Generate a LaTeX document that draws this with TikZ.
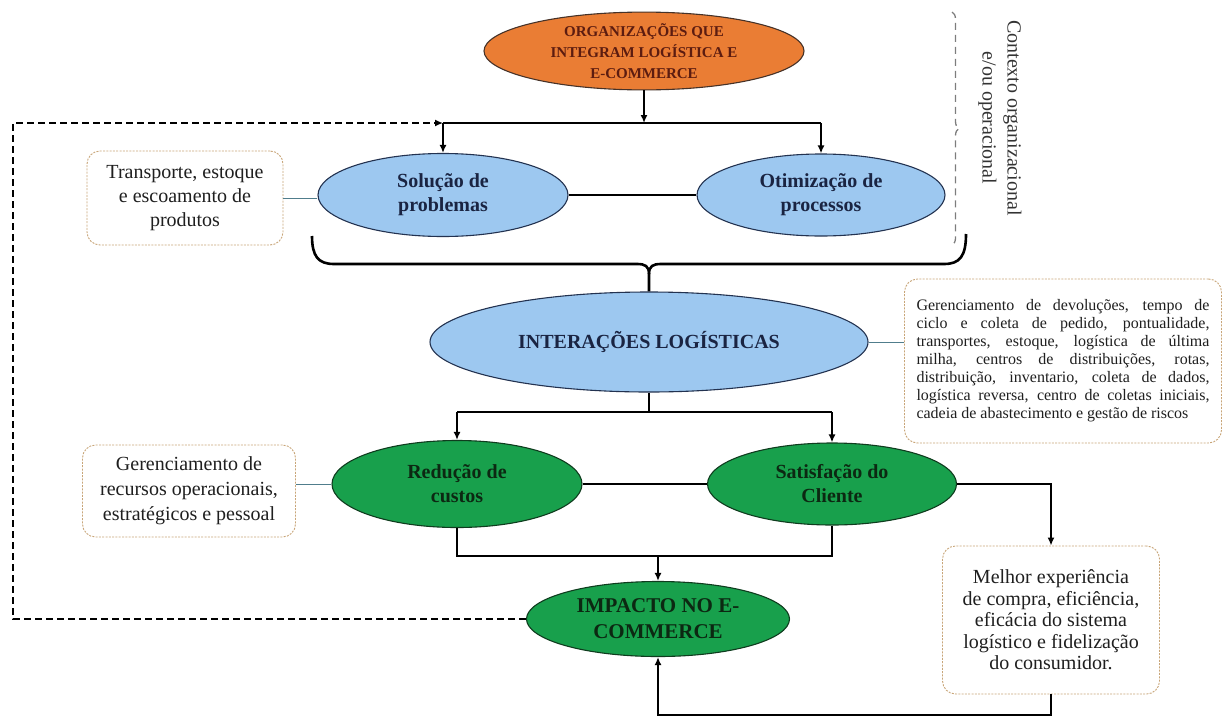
\documentclass[tikz,border=0pt]{standalone}
\usepackage{fontspec}
\setmainfont{Liberation Serif}
\usetikzlibrary{shapes.geometric,arrows.meta,decorations.pathreplacing}

\definecolor{orgfill}{RGB}{234,125,52}
\definecolor{orgline}{RGB}{70,50,40}
\definecolor{orgtext}{RGB}{92,28,16}
\definecolor{bluefill}{RGB}{157,200,240}
\definecolor{blueline}{RGB}{35,50,80}
\definecolor{bluetext}{RGB}{26,36,66}
\definecolor{greenfill}{RGB}{24,160,76}
\definecolor{greenline}{RGB}{15,60,30}
\definecolor{greentext}{RGB}{12,40,18}
\definecolor{boxline}{RGB}{200,165,120}
\definecolor{noteline}{RGB}{80,125,140}
\definecolor{ctxgray}{RGB}{125,125,125}

\begin{document}
\begin{tikzpicture}[x=1pt,y=-1pt,
  oval/.style={ellipse, draw, line width=1.1pt, inner sep=0pt, align=center},
  orgoval/.style={oval, fill=orgfill, draw=orgline, text=orgtext,
    font=\bfseries\fontsize{15}{21}\selectfont},
  blueoval/.style={oval, fill=bluefill, draw=blueline, text=bluetext,
    font=\bfseries\fontsize{20}{24}\selectfont},
  greenoval/.style={oval, fill=greenfill, draw=greenline, text=greentext,
    font=\bfseries\fontsize{20}{24}\selectfont},
  note/.style={draw=boxline, dash pattern=on 2pt off 1.3pt, line width=0.9pt,
    rounded corners=13pt, fill=white, align=center, inner sep=0pt, text=black!88},
  conn/.style={line width=2.2pt, black},
  arr/.style={conn, -{Latex[length=8pt,width=7pt]}},
  link/.style={line width=1pt, noteline},
  fb/.style={line width=1.4pt, dash pattern=on 7pt off 4pt, -{Latex[length=8pt,width=7pt]}},
]
\useasboundingbox (0,0) rectangle (1225,715);

% ---- ellipses ----
\node[orgoval, minimum width=320pt, minimum height=74pt] (org) at (644,51)
  {ORGANIZAÇÕES QUE\\INTEGRAM LOGÍSTICA E\\E-COMMERCE};
\node[blueoval, minimum width=250pt, minimum height=83pt] (sol) at (443,195)
  {Solução de\\problemas};
\node[blueoval, minimum width=248pt, minimum height=82pt] (oti) at (821,195)
  {Otimização de\\processos};
\node[blueoval, minimum width=438pt, minimum height=100pt] (inter) at (649,342)
  {INTERAÇÕES LOGÍSTICAS};
\node[greenoval, minimum width=250pt, minimum height=87pt] (red) at (457,484)
  {Redução de\\custos};
\node[greenoval, minimum width=249pt, minimum height=82pt] (sat) at (832,484)
  {Satisfação do\\Cliente};
\node[greenoval, minimum width=263pt, minimum height=75pt,
  font=\bfseries\fontsize{21}{26}\selectfont] (imp) at (658,619)
  {IMPACTO NO E-\\COMMERCE};

% ---- note boxes ----
\node[note, minimum width=196pt, minimum height=94pt,
  font=\fontsize{20}{24}\selectfont] (b1) at (185,198)
  {Transporte, estoque\\e escoamento de\\produtos};
\node[note, minimum width=213pt, minimum height=92pt,
  font=\fontsize{20}{25}\selectfont] (b2) at (189,491)
  {Gerenciamento de\\recursos operacionais,\\estratégicos e pessoal};
\node[note, minimum width=317pt, minimum height=164pt, align=left,
  font=\fontsize{16}{18}\selectfont] (b3) at (1063,361)
  {\makebox[293pt][s]{Gerenciamento de devoluções, tempo de}\\
   \makebox[293pt][s]{ciclo e coleta de pedido, pontualidade,}\\
   \makebox[293pt][s]{transportes, estoque, logística de última}\\
   \makebox[293pt][s]{milha, centros de distribuições, rotas,}\\
   \makebox[293pt][s]{distribuição, inventario, coleta de dados,}\\
   \makebox[293pt][s]{logística reversa, centro de coletas iniciais,}\\
   cadeia de abastecimento e gestão de riscos};
\node[note, minimum width=217pt, minimum height=148pt,
  font=\fontsize{20}{21.5}\selectfont] (b4) at (1051,620)
  {Melhor experiência\\de compra, eficiência,\\eficácia do sistema\\logístico e fidelização\\do consumidor.};

% ---- context label ----
\node[rotate=-90, align=center, text=black!80, font=\fontsize{20}{25}\selectfont]
  (ctx) at (1000,118) {Contexto organizacional\\e/ou operacional};
\coordinate (ctxT) at (952,12);
\coordinate (ctxB) at (952,245);
\draw[ctxgray, line width=1.3pt, dash pattern=on 7pt off 5pt, decorate,
  decoration={brace, amplitude=7pt}] (ctxT) -- (ctxB);

% ---- top split ----
\coordinate (top) at (644,123);
\coordinate (tl) at (443,123);
\coordinate (tr) at (821,123);
\draw[arr] (org) -- (top);
\draw[conn] (tl) -- (tr);
\draw[arr] (tl) -- (sol);
\draw[arr] (tr) -- (oti);
\draw[conn] (sol) -- (oti);

% ---- brace gathering both branches ----
\coordinate (brL) at (312,236);
\coordinate (brR) at (966,234);
\draw[conn, line width=2.6pt] (brL) .. controls (312,256) and (318,264) .. (334,264)
  -- (637,264) .. controls (645,264) and (649,266) .. (649,274) -- (inter.north);
\draw[conn, line width=2.6pt] (brR) .. controls (966,256) and (960,264) .. (944,264)
  -- (661,264) .. controls (653,264) and (649,266) .. (649,274);

% ---- lower split ----
\coordinate (mid) at (649,412);
\coordinate (ml) at (457,412);
\coordinate (mr) at (832,412);
\draw[conn] (inter) -- (mid);
\draw[conn] (ml) -- (mr);
\draw[arr] (ml) -- (red);
\draw[arr] (mr) -- (sat);
\draw[conn] (red) -- (sat);

% ---- join into impact ----
\coordinate (jl) at (457,556);
\coordinate (jr) at (832,556);
\coordinate (jm) at (658,556);
\draw[conn] (red) -- (jl) -- (jr) -- (sat);
\draw[arr] (jm) -- (imp);

% ---- customer satisfaction outcome ----
\draw[arr] (sat.east) -| (b4.north);
\coordinate (bbi) at (658,715.3);
\draw[arr] (b4.south) |- (bbi) -- (imp);

% ---- feedback loop ----
\coordinate (fbc) at (13,123);
\draw[fb] (imp.west) -| (fbc) -- (tl);

% ---- note links ----
\draw[link] (b1.east) -- (b1.east -| sol.west);
\draw[link] (inter.east) -- (inter.east -| b3.west);
\draw[link] (b2.east |- red.west) -- (red.west);
\end{tikzpicture}
\end{document}
